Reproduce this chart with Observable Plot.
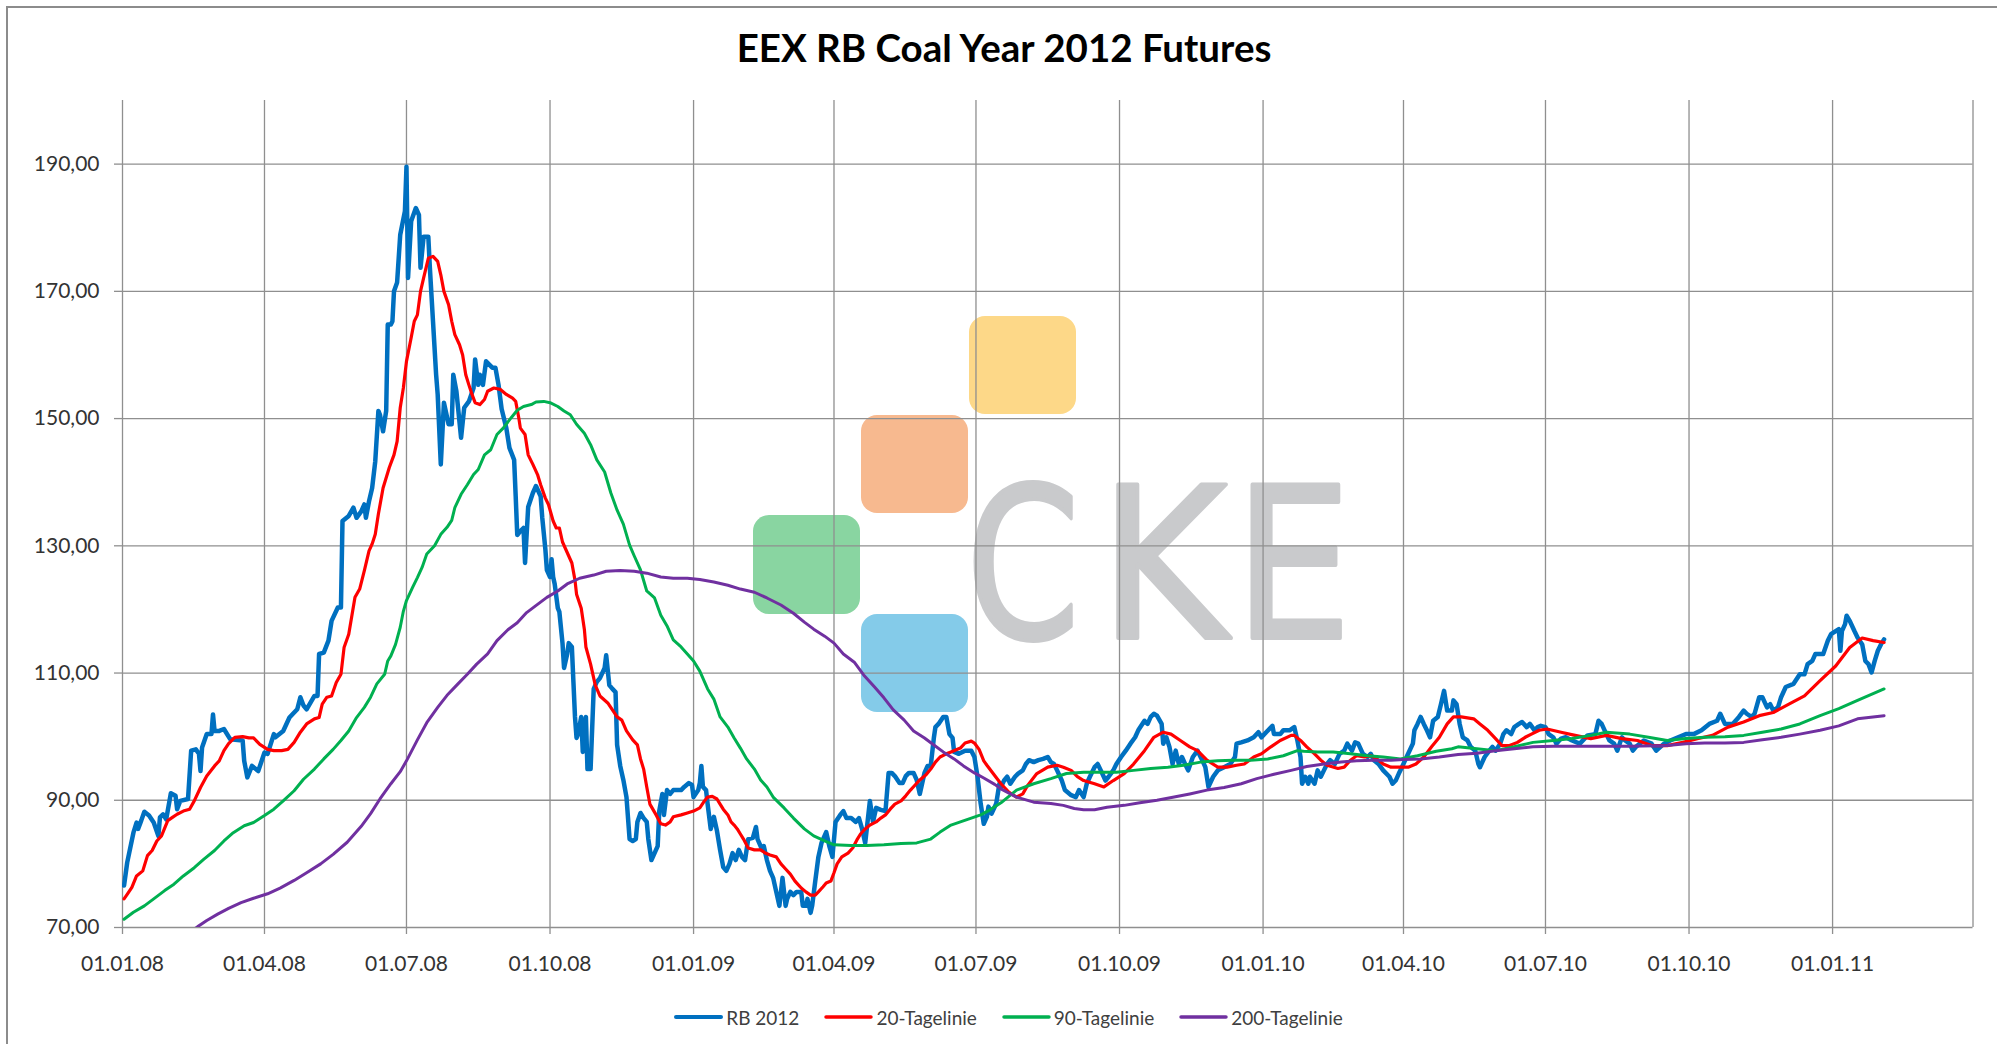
<!DOCTYPE html>
<html>
<head>
<meta charset="utf-8">
<script src="https://cdn.jsdelivr.net/npm/d3@7"></script>
<script src="https://cdn.jsdelivr.net/npm/@observablehq/plot@0.6"></script>
<style>
  html, body { margin: 0; padding: 0; background: #fff; overflow: hidden; }
  #wrap { position: relative; width: 1997px; height: 1044px; overflow: hidden; font-family: Lato, "Open Sans", sans-serif; }
  #frame { position: absolute; left: 6px; top: 6px; width: 2100px; height: 1100px; border-left: 2px solid #8c8c8c; border-top: 2px solid #8c8c8c; box-sizing: border-box; }
  #logo { position: absolute; left: 0; top: 0; }
  #title { position: absolute; left: 0; top: 0; }
  #chart { position: absolute; left: 0; top: 80px; width: 1997px; }
  #legend { position: absolute; left: 0; top: 1004px; width: 2017px; height: 26px; display: flex; justify-content: center; align-items: center; font: 19px Lato, sans-serif; color: #404040; }
  #legend .item { display: flex; align-items: center; margin-right: 25px; }
  #legend .item:last-child { margin-right: 0; }
  #legend svg { display: block; margin-right: 3px; }
</style>
</head>
<body>
<div id="wrap">
  <div id="frame"></div>
  <svg id="logo" width="1997" height="1044"></svg>
  <div id="chart"></div>
  <svg id="title" width="1997" height="80"></svg>
  <div id="legend"></div>
</div>
<script>
// ---------- text ----------
const titleText = "EEX RB Coal Year 2012 Futures";
const seriesNames = ["RB 2012", "20-Tagelinie", "90-Tagelinie", "200-Tagelinie"];
const seriesColors = ["#0070C0", "#FF0000", "#00B050", "#7030A0"];
const seriesWidths = [4.5, 3.2, 3, 3];

// ---------- axes ----------
const yTicks = [70, 90, 110, 130, 150, 170, 190];
const yDomain = [70, 200];
const xTickLabels = ["01.01.08", "01.04.08", "01.07.08", "01.10.08", "01.01.09", "01.04.09", "01.07.09", "01.10.09", "01.01.10", "01.04.10", "01.07.10", "01.10.10", "01.01.11"];
const xGridExtra = ["01.04.11"];
const xDomain = ["01.01.08", "01.04.11"];

// ---------- series (date, value) ----------
const rb2012 = [
["2008-01-02",76.6],["2008-01-04",80.2],["2008-01-08",84.9],["2008-01-10",86.5],["2008-01-11",85.5],["2008-01-13",86.8],["2008-01-15",88.2],["2008-01-18",87.6],["2008-01-21",86.5],["2008-01-24",84.4],["2008-01-25",87.3],["2008-01-27",87.8],["2008-01-29",87.0],
["2008-02-01",91.1],["2008-02-04",90.7],["2008-02-05",88.6],["2008-02-07",89.9],["2008-02-12",90.2],["2008-02-14",97.8],["2008-02-17",98.0],["2008-02-19",97.3],["2008-02-20",94.6],["2008-02-21",98.3],["2008-02-24",100.4],["2008-02-27",100.4],["2008-02-28",103.5],["2008-02-29",100.9],
["2008-03-03",100.9],["2008-03-06",101.2],["2008-03-10",99.6],["2008-03-18",99.4],["2008-03-19",96.2],["2008-03-21",93.6],["2008-03-24",95.4],["2008-03-28",94.6],
["2008-04-01",97.5],["2008-04-03",97.3],["2008-04-07",100.4],["2008-04-08",99.9],["2008-04-13",100.9],["2008-04-17",103.0],["2008-04-22",104.3],["2008-04-24",106.2],["2008-04-26",104.9],["2008-04-28",104.3],
["2008-05-03",106.4],["2008-05-05",106.4],["2008-05-06",113.0],["2008-05-09",113.2],["2008-05-12",115.1],["2008-05-14",118.2],["2008-05-18",120.3],["2008-05-20",120.3],["2008-05-21",133.9],["2008-05-25",134.7],["2008-05-28",136.0],["2008-05-30",134.4],
["2008-06-02",135.4],["2008-06-04",136.5],["2008-06-05",134.4],["2008-06-07",137.0],["2008-06-09",139.1],["2008-06-11",143.3],["2008-06-13",151.2],["2008-06-14",150.6],["2008-06-16",148.0],["2008-06-18",151.2],["2008-06-19",164.8],["2008-06-21",164.8],["2008-06-22",165.3],["2008-06-23",170.0],["2008-06-25",171.4],["2008-06-27",178.9],["2008-06-30",182.6],
["2008-07-01",189.6],["2008-07-02",172.1],["2008-07-04",181.0],["2008-07-07",183.1],["2008-07-09",182.0],["2008-07-10",173.7],["2008-07-12",178.6],["2008-07-15",178.6],["2008-07-16",173.7],["2008-07-18",165.3],["2008-07-20",156.9],["2008-07-21",153.8],["2008-07-23",142.8],["2008-07-25",152.5],["2008-07-28",149.1],["2008-07-30",149.1],["2008-07-31",156.9],
["2008-08-02",154.3],["2008-08-05",147.0],["2008-08-07",151.7],["2008-08-10",152.7],["2008-08-13",154.8],["2008-08-14",159.3],["2008-08-16",155.3],["2008-08-17",156.9],["2008-08-19",155.3],["2008-08-21",159.0],["2008-08-25",158.0],["2008-08-27",158.0],["2008-08-29",155.3],["2008-08-31",151.5],
["2008-09-03",148.5],["2008-09-05",145.4],["2008-09-08",143.5],["2008-09-09",137.8],["2008-09-10",131.7],["2008-09-12",132.3],["2008-09-14",132.8],["2008-09-15",127.3],["2008-09-17",136.1],["2008-09-20",138.3],["2008-09-22",139.4],["2008-09-25",137.8],["2008-09-26",134.5],["2008-09-28",129.5],["2008-09-29",126.2],
["2008-10-01",125.1],["2008-10-02",127.9],["2008-10-03",125.1],["2008-10-04",124.0],["2008-10-06",120.2],["2008-10-07",119.6],["2008-10-09",114.7],["2008-10-10",110.8],["2008-10-12",113.0],["2008-10-13",114.7],["2008-10-15",114.1],["2008-10-16",108.6],["2008-10-17",103.1],["2008-10-18",99.8],["2008-10-19",100.4],["2008-10-21",103.1],["2008-10-22",97.6],["2008-10-24",103.1],["2008-10-25",94.9],["2008-10-27",94.9],["2008-10-29",107.5],["2008-10-31",108.6],
["2008-11-02",109.2],["2008-11-05",110.8],["2008-11-06",112.8],["2008-11-08",108.1],["2008-11-10",107.5],["2008-11-12",107.0],["2008-11-13",98.7],["2008-11-15",95.4],["2008-11-17",93.2],["2008-11-19",90.5],["2008-11-21",83.9],["2008-11-23",83.6],["2008-11-25",83.9],["2008-11-26",86.6],["2008-11-28",88.0],["2008-11-30",87.2],
["2008-12-02",86.6],["2008-12-03",83.9],["2008-12-05",80.6],["2008-12-07",81.7],["2008-12-09",82.8],["2008-12-10",88.3],["2008-12-12",91.0],["2008-12-13",87.7],["2008-12-15",91.6],["2008-12-17",91.0],["2008-12-19",91.6],["2008-12-24",91.6],["2008-12-26",92.1],["2008-12-29",92.7],["2008-12-31",92.4],
["2009-01-01",90.5],["2009-01-04",91.6],["2009-01-05",92.7],["2009-01-06",95.4],["2009-01-07",92.1],["2009-01-09",91.6],["2009-01-10",89.4],["2009-01-12",85.5],["2009-01-14",87.4],["2009-01-16",85.2],["2009-01-18",82.2],["2009-01-20",79.5],["2009-01-22",78.9],["2009-01-24",80.0],["2009-01-26",81.7],["2009-01-28",80.6],["2009-01-30",82.2],
["2009-02-01",81.1],["2009-02-03",80.6],["2009-02-05",83.9],["2009-02-08",84.1],["2009-02-10",85.8],["2009-02-11",83.9],["2009-02-14",82.2],["2009-02-15",82.8],["2009-02-17",80.6],["2009-02-19",78.9],["2009-02-21",77.8],["2009-02-23",75.6],["2009-02-25",73.4],["2009-02-26",75.6],["2009-02-27",77.8],
["2009-03-01",73.4],["2009-03-02",74.5],["2009-03-04",75.6],["2009-03-06",75.1],["2009-03-08",75.6],["2009-03-11",75.6],["2009-03-12",73.4],["2009-03-14",73.4],["2009-03-15",74.5],["2009-03-17",72.3],["2009-03-18",73.4],["2009-03-20",77.3],["2009-03-22",81.1],["2009-03-24",83.3],["2009-03-27",85.0],["2009-03-29",82.8],["2009-03-31",81.1],
["2009-04-02",86.6],["2009-04-05",87.7],["2009-04-07",88.3],["2009-04-09",87.2],["2009-04-12",87.2],["2009-04-15",86.6],["2009-04-17",87.2],["2009-04-19",85.5],["2009-04-21",83.3],["2009-04-22",85.5],["2009-04-24",89.9],["2009-04-26",86.6],["2009-04-28",88.8],
["2009-05-01",88.5],["2009-05-04",88.3],["2009-05-06",94.3],["2009-05-08",94.3],["2009-05-10",93.8],["2009-05-13",92.7],["2009-05-15",92.7],["2009-05-17",93.8],["2009-05-19",94.3],["2009-05-22",94.3],["2009-05-24",93.2],["2009-05-26",91.0],["2009-05-29",94.3],["2009-05-31",95.4],
["2009-06-02",95.4],["2009-06-04",99.8],["2009-06-05",101.5],["2009-06-07",102.0],["2009-06-10",103.1],["2009-06-12",103.1],["2009-06-14",100.4],["2009-06-16",99.8],["2009-06-17",97.6],["2009-06-20",97.3],["2009-06-24",97.8],["2009-06-28",97.8],["2009-06-30",96.8],
["2009-07-02",93.7],["2009-07-04",89.5],["2009-07-06",86.3],["2009-07-08",87.4],["2009-07-09",89.0],["2009-07-11",87.9],["2009-07-14",89.5],["2009-07-16",92.6],["2009-07-17",92.1],["2009-07-19",93.1],["2009-07-21",93.7],["2009-07-23",92.6],["2009-07-26",93.7],["2009-07-28",94.2],["2009-07-31",94.7],
["2009-08-02",95.7],["2009-08-04",96.3],["2009-08-07",96.0],["2009-08-10",96.3],["2009-08-13",96.5],["2009-08-16",96.8],["2009-08-18",96.0],["2009-08-20",95.7],["2009-08-22",94.7],["2009-08-25",93.1],["2009-08-27",91.6],["2009-08-31",90.8],
["2009-09-03",90.5],["2009-09-05",91.6],["2009-09-08",90.5],["2009-09-10",92.6],["2009-09-12",93.7],["2009-09-15",95.2],["2009-09-17",95.7],["2009-09-19",94.7],["2009-09-22",93.1],["2009-09-24",93.7],["2009-09-27",94.7],["2009-09-29",95.7],
["2009-10-02",96.8],["2009-10-05",97.8],["2009-10-08",98.9],["2009-10-11",99.9],["2009-10-13",101.0],["2009-10-17",102.5],["2009-10-19",102.0],["2009-10-21",103.1],["2009-10-23",103.6],["2009-10-25",103.3],["2009-10-28",102.0],["2009-10-29",98.9],["2009-10-31",99.9],
["2009-11-02",98.4],["2009-11-04",95.7],["2009-11-06",97.8],["2009-11-08",95.7],["2009-11-10",96.8],["2009-11-12",95.7],["2009-11-14",94.7],["2009-11-17",96.8],["2009-11-20",97.8],["2009-11-23",96.3],["2009-11-25",95.2],["2009-11-27",92.1],["2009-11-30",93.7],
["2009-12-03",94.7],["2009-12-07",95.2],["2009-12-11",95.7],["2009-12-14",96.8],["2009-12-15",98.9],["2009-12-18",99.1],["2009-12-22",99.4],["2009-12-26",99.9],["2009-12-29",100.7],["2009-12-31",99.9],
["2010-01-03",100.7],["2010-01-07",101.7],["2010-01-08",100.4],["2010-01-12",100.4],["2010-01-14",101.0],["2010-01-18",101.0],["2010-01-21",101.5],["2010-01-23",99.4],["2010-01-25",96.8],["2010-01-26",92.6],["2010-01-28",93.7],["2010-01-30",92.6],["2010-01-31",93.7],
["2010-02-03",92.6],["2010-02-05",94.7],["2010-02-07",93.7],["2010-02-09",94.7],["2010-02-11",95.7],["2010-02-13",96.3],["2010-02-16",95.7],["2010-02-19",97.3],["2010-02-22",97.8],["2010-02-24",98.9],["2010-02-27",97.8],
["2010-03-01",99.1],["2010-03-03",98.9],["2010-03-06",97.3],["2010-03-09",96.8],["2010-03-11",97.3],["2010-03-13",96.3],["2010-03-16",95.7],["2010-03-19",94.7],["2010-03-23",93.7],["2010-03-25",92.6],["2010-03-27",93.1],["2010-03-29",94.2],["2010-03-31",95.2],
["2010-04-03",96.8],["2010-04-07",98.9],["2010-04-08",101.0],["2010-04-10",102.0],["2010-04-12",103.1],["2010-04-14",102.0],["2010-04-16",101.0],["2010-04-18",99.9],["2010-04-20",102.5],["2010-04-23",103.1],["2010-04-25",105.1],["2010-04-27",107.2],["2010-04-29",104.1],
["2010-05-02",104.1],["2010-05-03",105.7],["2010-05-05",105.1],["2010-05-07",102.0],["2010-05-09",99.9],["2010-05-12",99.4],["2010-05-14",98.4],["2010-05-17",97.8],["2010-05-19",95.7],["2010-05-20",95.2],["2010-05-23",96.8],["2010-05-26",97.8],["2010-05-28",98.4],["2010-05-30",97.8],
["2010-06-02",98.9],["2010-06-04",100.4],["2010-06-06",101.0],["2010-06-09",100.4],["2010-06-11",101.5],["2010-06-14",102.0],["2010-06-16",102.3],["2010-06-19",101.5],["2010-06-21",102.0],["2010-06-24",101.0],["2010-06-26",101.5],["2010-06-28",101.7],
["2010-07-01",101.5],["2010-07-03",100.4],["2010-07-06",99.9],["2010-07-08",98.9],["2010-07-11",99.7],["2010-07-14",99.9],["2010-07-18",99.4],["2010-07-23",98.9],["2010-07-28",100.2],
["2010-08-02",100.4],["2010-08-04",102.5],["2010-08-06",102.0],["2010-08-09",100.4],["2010-08-11",99.4],["2010-08-14",98.9],["2010-08-16",97.8],["2010-08-19",99.9],["2010-08-21",99.4],["2010-08-24",98.9],["2010-08-26",97.8],["2010-08-28",98.4],
["2010-09-02",99.4],["2010-09-07",98.9],["2010-09-10",97.8],["2010-09-15",98.9],["2010-09-19",99.4],["2010-09-24",99.9],["2010-09-29",100.4],
["2010-10-04",100.4],["2010-10-09",101.0],["2010-10-14",102.0],["2010-10-19",102.5],["2010-10-21",103.6],["2010-10-24",102.0],["2010-10-29",102.0],
["2010-11-02",103.1],["2010-11-05",104.1],["2010-11-07",103.6],["2010-11-10",103.1],["2010-11-12",103.6],["2010-11-15",106.2],["2010-11-17",106.2],["2010-11-20",104.6],["2010-11-22",105.1],["2010-11-24",104.1],["2010-11-27",104.6],["2010-11-29",106.2],
["2010-12-02",107.8],["2010-12-07",108.3],["2010-12-11",109.8],["2010-12-14",109.8],["2010-12-16",111.4],["2010-12-19",111.9],["2010-12-21",113.0],["2010-12-26",113.0],["2010-12-29",115.1],["2010-12-31",116.1],
["2011-01-05",116.9],["2011-01-06",113.5],["2011-01-07",116.6],["2011-01-09",117.7],["2011-01-10",119.0],["2011-01-12",118.2],["2011-01-15",116.6],["2011-01-17",115.6],["2011-01-20",114.5],["2011-01-22",111.9],["2011-01-24",111.4],["2011-01-26",110.1],["2011-01-28",111.9],["2011-01-30",113.5],["2011-02-01",114.5],["2011-02-03",115.3]
];

const ma20 = [
["2008-01-02",74.5],["2008-01-04",75.2],["2008-01-07",76.3],["2008-01-10",78.1],["2008-01-14",78.9],["2008-01-17",81.3],["2008-01-20",82.1],["2008-01-23",83.6],["2008-01-26",84.4],["2008-01-30",86.8],
["2008-02-02",87.3],["2008-02-05",87.8],["2008-02-09",88.3],["2008-02-13",88.6],["2008-02-16",89.9],["2008-02-20",92.0],["2008-02-24",93.8],["2008-02-29",95.4],
["2008-03-03",96.2],["2008-03-06",97.8],["2008-03-09",98.9],["2008-03-13",99.9],["2008-03-18",100.0],["2008-03-22",99.8],["2008-03-25",99.8],["2008-03-29",98.8],
["2008-04-03",98.0],["2008-04-07",97.8],["2008-04-12",97.8],["2008-04-16",98.0],["2008-04-20",99.1],["2008-04-24",100.7],["2008-04-28",102.0],
["2008-05-03",102.8],["2008-05-06",103.0],["2008-05-08",105.1],["2008-05-11",106.2],["2008-05-14",106.4],["2008-05-17",108.5],["2008-05-20",109.8],["2008-05-22",114.0],["2008-05-25",116.1],["2008-05-29",121.9],
["2008-06-01",123.2],["2008-06-04",126.1],["2008-06-07",129.2],["2008-06-09",130.3],["2008-06-11",131.8],["2008-06-13",135.0],["2008-06-16",139.1],["2008-06-20",142.3],["2008-06-23",144.3],["2008-06-25",146.4],["2008-06-27",151.7],["2008-06-29",154.8],
["2008-07-01",159.0],["2008-07-04",162.7],["2008-07-06",165.3],["2008-07-08",166.3],["2008-07-10",170.0],["2008-07-12",172.1],["2008-07-15",175.2],["2008-07-18",175.5],["2008-07-21",174.7],["2008-07-23",172.6],["2008-07-25",170.0],["2008-07-28",167.9],["2008-07-30",165.3],
["2008-08-01",163.2],["2008-08-04",161.6],["2008-08-06",160.0],["2008-08-08",156.9],["2008-08-10",155.3],["2008-08-12",153.8],["2008-08-14",152.5],["2008-08-17",152.2],["2008-08-20",153.0],["2008-08-22",154.3],["2008-08-26",154.8],["2008-08-30",154.6],
["2008-09-03",153.8],["2008-09-07",153.2],["2008-09-09",152.7],["2008-09-11",150.1],["2008-09-12",148.5],["2008-09-15",147.5],["2008-09-17",144.3],["2008-09-20",142.8],["2008-09-23",141.2],["2008-09-25",139.6],["2008-09-28",137.5],["2008-09-30",136.5],
["2008-10-03",133.9],["2008-10-05",132.8],["2008-10-07",132.8],["2008-10-09",130.6],["2008-10-11",129.5],["2008-10-13",128.4],["2008-10-15",127.3],["2008-10-17",124.6],["2008-10-18",122.4],["2008-10-21",120.2],["2008-10-23",116.9],["2008-10-24",114.1],["2008-10-27",111.4],["2008-10-30",108.1],
["2008-11-02",106.4],["2008-11-07",105.3],["2008-11-10",104.2],["2008-11-13",103.1],["2008-11-16",102.6],["2008-11-19",100.9],["2008-11-23",99.5],["2008-11-26",98.7],["2008-11-28",96.5],["2008-11-30",94.9],
["2008-12-02",92.1],["2008-12-04",89.4],["2008-12-08",87.7],["2008-12-11",86.3],["2008-12-14",86.1],["2008-12-17",86.6],["2008-12-19",87.4],["2008-12-24",87.7],["2008-12-28",88.0],
["2009-01-01",88.3],["2009-01-05",88.8],["2009-01-08",89.9],["2009-01-10",90.5],["2009-01-13",90.6],["2009-01-16",90.2],["2009-01-18",89.4],["2009-01-20",88.6],["2009-01-23",87.7],["2009-01-25",86.6],["2009-01-27",86.1],["2009-01-29",85.5],["2009-01-31",84.7],
["2009-02-02",83.9],["2009-02-05",82.5],["2009-02-09",82.2],["2009-02-13",82.2],["2009-02-16",81.7],["2009-02-19",81.4],["2009-02-23",81.1],["2009-02-26",80.0],
["2009-03-01",79.2],["2009-03-04",78.4],["2009-03-07",77.3],["2009-03-11",76.2],["2009-03-14",75.6],["2009-03-17",75.1],["2009-03-20",75.1],["2009-03-22",75.6],["2009-03-25",76.4],["2009-03-27",77.0],["2009-03-30",77.3],
["2009-04-01",78.6],["2009-04-03",80.0],["2009-04-06",81.1],["2009-04-10",81.7],["2009-04-13",82.5],["2009-04-16",83.9],["2009-04-18",84.7],["2009-04-21",85.5],["2009-04-24",86.1],["2009-04-28",86.6],
["2009-05-01",87.2],["2009-05-04",87.7],["2009-05-07",88.6],["2009-05-10",89.4],["2009-05-14",89.9],["2009-05-17",90.7],["2009-05-20",91.6],["2009-05-23",92.4],["2009-05-26",93.2],["2009-05-30",94.0],
["2009-06-02",94.9],["2009-06-05",96.0],["2009-06-08",96.8],["2009-06-12",97.3],["2009-06-15",97.6],["2009-06-18",97.9],["2009-06-21",98.2],["2009-06-24",99.0],["2009-06-28",99.3],["2009-06-30",99.0],
["2009-07-03",98.0],["2009-07-06",96.2],["2009-07-08",95.5],["2009-07-12",94.2],["2009-07-17",92.6],["2009-07-22",91.3],["2009-07-27",90.5],["2009-07-31",91.0],
["2009-08-03",92.3],["2009-08-09",94.2],["2009-08-16",95.2],["2009-08-22",95.5],["2009-08-26",95.2],["2009-08-31",94.7],
["2009-09-04",93.7],["2009-09-08",93.1],["2009-09-15",92.6],["2009-09-21",92.1],["2009-09-27",93.1],
["2009-10-04",94.2],["2009-10-10",95.7],["2009-10-17",97.8],["2009-10-23",99.9],["2009-10-29",100.7],
["2009-11-03",100.4],["2009-11-09",99.4],["2009-11-15",98.4],["2009-11-20",97.8],["2009-11-26",96.3],
["2009-12-03",95.2],["2009-12-09",95.2],["2009-12-15",95.5],["2009-12-20",95.7],["2009-12-26",96.8],["2009-12-31",97.3],
["2010-01-06",98.4],["2010-01-12",99.4],["2010-01-19",100.2],["2010-01-21",100.2],["2010-01-25",99.4],["2010-01-29",98.4],
["2010-02-03",97.3],["2010-02-07",96.3],["2010-02-11",95.5],["2010-02-18",95.0],["2010-02-22",95.2],["2010-02-26",96.3],
["2010-03-02",97.0],["2010-03-07",96.8],["2010-03-11",97.0],["2010-03-15",96.5],["2010-03-19",95.7],["2010-03-24",95.2],["2010-03-28",95.2],
["2010-04-04",95.2],["2010-04-09",95.7],["2010-04-14",96.8],["2010-04-19",98.4],["2010-04-24",99.9],["2010-04-29",102.0],
["2010-05-03",103.1],["2010-05-08",103.1],["2010-05-16",102.8],["2010-05-20",102.0],["2010-05-25",101.0],["2010-05-30",99.7],
["2010-06-03",98.6],["2010-06-08",98.6],["2010-06-13",99.1],["2010-06-18",99.9],["2010-06-22",100.4],["2010-06-27",101.0],
["2010-07-02",101.2],["2010-07-11",100.7],["2010-07-20",100.2],["2010-07-30",99.7],["2010-08-09",100.2],["2010-08-19",99.7],["2010-08-29",99.4],
["2010-09-07",98.6],["2010-09-17",98.6],["2010-09-27",99.1],["2010-10-07",99.7],["2010-10-16",100.2],["2010-10-26",101.5],
["2010-11-05",102.3],["2010-11-15",103.3],["2010-11-24",103.8],["2010-12-04",105.1],["2010-12-14",106.4],["2010-12-24",108.8],
["2011-01-03",111.1],["2011-01-12",114.0],["2011-01-20",115.5],["2011-01-27",115.1],["2011-02-03",114.8]
];

const ma90 = [
["2008-01-02",71.3],["2008-01-08",72.4],["2008-01-15",73.4],["2008-01-21",74.5],["2008-01-28",75.8],["2008-02-03",76.8],["2008-02-09",78.1],["2008-02-16",79.4],["2008-02-22",80.7],["2008-02-29",82.1],
["2008-03-06",83.6],["2008-03-12",84.9],["2008-03-19",86.0],["2008-03-25",86.5],["2008-04-01",87.6],["2008-04-07",88.6],["2008-04-13",89.9],["2008-04-20",91.5],["2008-04-26",93.3],
["2008-05-03",94.9],["2008-05-09",96.5],["2008-05-15",98.0],["2008-05-20",99.4],["2008-05-25",100.9],["2008-05-30",103.0],["2008-06-04",104.6],["2008-06-08",106.2],["2008-06-12",108.3],["2008-06-17",109.8],["2008-06-19",111.9],["2008-06-21",112.7],["2008-06-24",114.5],["2008-06-27",117.2],["2008-06-29",119.7],
["2008-07-01",121.4],["2008-07-05",123.5],["2008-07-08",125.0],["2008-07-11",126.6],["2008-07-14",128.7],["2008-07-19",130.0],["2008-07-23",131.8],["2008-07-27",132.9],["2008-07-30",134.0],
["2008-08-01",136.0],["2008-08-05",138.1],["2008-08-09",139.6],["2008-08-13",141.2],["2008-08-16",142.0],["2008-08-20",144.3],["2008-08-24",145.1],["2008-08-28",147.5],
["2008-09-01",148.5],["2008-09-06",150.1],["2008-09-10",151.3],["2008-09-14",151.9],["2008-09-19",152.2],["2008-09-22",152.6],["2008-09-27",152.7],
["2008-10-01",152.5],["2008-10-06",151.9],["2008-10-10",151.2],["2008-10-14",150.6],["2008-10-18",149.1],["2008-10-23",147.7],["2008-10-27",145.9],["2008-10-31",143.5],
["2008-11-05",141.6],["2008-11-09",138.3],["2008-11-13",135.6],["2008-11-17",133.4],["2008-11-21",130.1],["2008-11-24",128.4],["2008-11-28",126.2],
["2008-12-02",122.9],["2008-12-07",121.8],["2008-12-11",119.1],["2008-12-15",117.4],["2008-12-19",115.2],["2008-12-24",114.1],["2008-12-28",113.0],
["2009-01-01",111.9],["2009-01-05",110.3],["2009-01-10",107.5],["2009-01-14",105.9],["2009-01-18",103.1],["2009-01-23",101.5],["2009-01-27",99.8],["2009-01-31",98.2],
["2009-02-04",96.5],["2009-02-09",94.9],["2009-02-13",93.2],["2009-02-17",92.1],["2009-02-21",90.5],["2009-02-28",88.8],
["2009-03-06",87.2],["2009-03-13",85.5],["2009-03-19",84.4],["2009-03-26",83.6],["2009-04-01",83.0],["2009-04-12",82.9],["2009-04-22",82.9],["2009-05-03",83.0],["2009-05-14",83.2],["2009-05-24",83.3],
["2009-06-02",83.9],["2009-06-08",85.0],["2009-06-15",86.1],["2009-06-21",86.6],["2009-06-28",87.2],["2009-07-04",87.7],["2009-07-10",88.5],["2009-07-17",89.6],["2009-07-27",91.6],
["2009-08-07",92.6],["2009-08-18",93.4],["2009-08-28",94.2],["2009-09-08",94.4],["2009-09-19",94.4],["2009-09-29",94.4],["2009-10-10",94.7],["2009-10-21",95.0],
["2009-11-01",95.2],["2009-11-11",95.5],["2009-11-22",96.0],["2009-12-03",96.2],["2009-12-13",96.3],["2009-12-24",96.3],
["2010-01-04",96.5],["2010-01-14",97.0],["2010-01-23",97.8],["2010-01-27",97.7],["2010-02-05",97.6],["2010-02-15",97.6],["2010-02-26",97.3],["2010-03-09",97.0],["2010-03-19",96.8],["2010-03-30",96.5],
["2010-04-10",97.0],["2010-04-22",97.7],["2010-05-02",98.1],["2010-05-06",98.4],["2010-05-18",98.1],["2010-05-30",97.8],["2010-06-11",98.4],["2010-06-23",99.1],
["2010-07-06",99.4],["2010-07-18",99.7],["2010-07-30",100.2],["2010-08-09",100.7],["2010-08-24",100.4],["2010-09-05",99.9],["2010-09-17",99.4],["2010-09-29",99.7],
["2010-10-11",99.9],["2010-10-24",100.0],["2010-11-05",100.2],["2010-11-17",100.7],["2010-11-29",101.2],["2010-12-11",102.0],["2010-12-24",103.3],
["2011-01-05",104.4],["2011-01-17",105.7],["2011-02-03",107.5]
];

const ma200 = [
["2008-02-14",69.4],["2008-02-18",70.1],["2008-02-24",71.1],["2008-03-02",72.1],["2008-03-09",73.0],["2008-03-17",73.9],["2008-03-25",74.6],["2008-04-03",75.3],["2008-04-11",76.2],["2008-04-20",77.4],["2008-04-28",78.6],
["2008-05-07",80.0],["2008-05-15",81.5],["2008-05-24",83.4],["2008-06-02",85.9],["2008-06-08",87.9],["2008-06-14",90.2],["2008-06-21",92.6],["2008-06-27",94.5],
["2008-07-01",96.2],["2008-07-08",99.5],["2008-07-14",102.2],["2008-07-21",104.6],["2008-07-27",106.5],["2008-08-03",108.3],["2008-08-09",109.8],["2008-08-15",111.4],["2008-08-22",113.0],["2008-08-28",115.1],
["2008-09-04",116.8],["2008-09-10",117.9],["2008-09-16",119.5],["2008-09-23",120.8],["2008-09-29",121.9],["2008-10-06",122.9],["2008-10-12",124.0],["2008-10-20",124.9],["2008-10-29",125.4],
["2008-11-06",126.0],["2008-11-15",126.1],["2008-11-24",126.0],["2008-12-02",125.7],["2008-12-11",125.1],["2008-12-19",124.9],["2008-12-28",124.9],
["2009-01-05",124.7],["2009-01-14",124.3],["2009-01-23",123.8],["2009-01-31",123.2],["2009-02-09",122.7],["2009-02-17",121.8],["2009-02-26",120.7],
["2009-03-06",119.4],["2009-03-13",118.0],["2009-03-19",116.9],["2009-03-26",115.8],["2009-04-01",114.7],["2009-04-07",113.0],["2009-04-14",111.7],["2009-04-20",109.7],["2009-04-27",107.8],
["2009-05-03",106.1],["2009-05-09",104.2],["2009-05-16",102.6],["2009-05-22",100.9],["2009-05-29",99.8],["2009-06-04",98.7],["2009-06-10",97.6],["2009-06-17",96.5],["2009-06-23",95.4],["2009-06-30",94.3],
["2009-07-06",93.5],["2009-07-13",92.5],["2009-07-17",91.8],["2009-07-27",90.5],["2009-08-07",89.7],["2009-08-18",89.5],["2009-08-26",89.2],["2009-09-02",88.7],["2009-09-08",88.5],["2009-09-15",88.5],["2009-09-23",88.9],
["2009-10-04",89.2],["2009-10-14",89.6],["2009-10-25",90.0],["2009-11-05",90.5],["2009-11-15",91.0],["2009-11-26",91.6],["2009-12-07",92.0],["2009-12-18",92.6],["2009-12-28",93.4],
["2010-01-08",94.1],["2010-01-19",94.7],["2010-01-29",95.3],["2010-02-09",95.7],["2010-02-20",96.0],["2010-03-02",96.2],["2010-03-13",96.3],["2010-03-24",96.3],["2010-04-01",96.4],["2010-04-12",96.5],["2010-04-24",96.8],
["2010-05-06",97.2],["2010-05-18",97.4],["2010-05-30",97.8],["2010-06-11",98.1],["2010-06-23",98.4],["2010-07-06",98.5],["2010-07-30",98.5],["2010-08-24",98.5],["2010-09-17",98.6],["2010-09-29",98.9],
["2010-10-11",99.0],["2010-10-24",99.0],["2010-11-05",99.1],["2010-11-17",99.5],["2010-11-29",99.9],["2010-12-11",100.4],["2010-12-24",101.0],
["2011-01-05",101.7],["2011-01-17",102.8],["2011-02-03",103.3]
];

// ---------- watermark (decoration) ----------
const logoSquares = [
  {x: 969, y: 316, w: 107, h: 98, fill: "#fdd888"},
  {x: 861, y: 415, w: 107, h: 98, fill: "#f7b98f"},
  {x: 753, y: 515, w: 107, h: 99, fill: "#89d5a1"},
  {x: 861, y: 614, w: 107, h: 98, fill: "#84cbe9"}
];
const logoLetters = [
  {ch: "C", x: 966, len: 114},
  {ch: "K", x: 1099, len: 128},
  {ch: "E", x: 1234, len: 118}
];

// ---------- build ----------
const parse = d3.utcParse("%Y-%m-%d");
const parseTick = d3.utcParse("%d.%m.%y");
const toRows = arr => arr.map(([d, v]) => ({date: parse(d), value: v}));
const gridColor = "#8f8f8f";
const fmtY = d => d3.format(".2f")(d).replace(".", ",");

// logo
const logo = d3.select("#logo");
logo.selectAll("rect").data(logoSquares).join("rect")
  .attr("x", d => d.x).attr("y", d => d.y).attr("width", d => d.w).attr("height", d => d.h)
  .attr("rx", 16).attr("fill", d => d.fill);
logo.selectAll("text").data(logoLetters).join("text")
  .attr("x", d => d.x).attr("y", 638)
  .attr("textLength", d => d.len).attr("lengthAdjust", "spacingAndGlyphs")
  .attr("font-family", "'DejaVu Sans', sans-serif").attr("font-size", 210)
  .attr("fill", "#c9cacc").attr("stroke", "#c9cacc").attr("stroke-width", 4).attr("stroke-linejoin", "round")
  .text(d => d.ch);

// title
d3.select("#title").append("text")
  .attr("x", 1004).attr("y", 62).attr("text-anchor", "middle")
  .attr("font-family", "Lato, sans-serif").attr("font-weight", "bold").attr("font-size", 38.5)
  .attr("fill", "#000").text(titleText);

// chart
const series = [rb2012, ma20, ma90, ma200].map(toRows);
const chart = Plot.plot({
  width: 1997,
  height: 900,
  marginLeft: 122,
  marginRight: 24.5,
  marginTop: 20,
  marginBottom: 53,
  style: {background: "transparent", fontFamily: "Lato, sans-serif", color: "#333", overflow: "visible"},
  x: {type: "utc", domain: xDomain.map(parseTick), label: null},
  y: {domain: yDomain, label: null},
  marks: [
    Plot.gridX([...xTickLabels, ...xGridExtra].map(parseTick), {stroke: gridColor, strokeOpacity: 1, strokeWidth: 1.3}),
    Plot.gridY(yTicks, {stroke: gridColor, strokeOpacity: 1, strokeWidth: 1.3}),
    Plot.axisY(yTicks, {tickSize: 8, tickPadding: 15, stroke: gridColor, strokeWidth: 1.3, fill: "#333", fontSize: 21, tickFormat: fmtY, label: null}),
    Plot.axisX(xTickLabels.map(parseTick), {tickSize: 7, tickPadding: 22, stroke: gridColor, strokeWidth: 1.3, fill: "#333", fontSize: 21, tickFormat: d3.utcFormat("%d.%m.%y"), label: null}),
    ...series.map((rows, i) => Plot.line(rows, {x: "date", y: "value", stroke: seriesColors[i], strokeWidth: seriesWidths[i], clip: true}))
  ]
});
document.getElementById("chart").appendChild(chart);

// legend
const legend = d3.select("#legend");
seriesNames.forEach((name, i) => {
  const item = legend.append("div").attr("class", "item");
  const sw = item.append("svg").attr("width", 49).attr("height", 10);
  sw.append("line").attr("x1", 2).attr("x2", 47).attr("y1", 5).attr("y2", 5)
    .attr("stroke", seriesColors[i]).attr("stroke-width", i === 0 ? 4 : 3.5).attr("stroke-linecap", "round");
  item.append("span").text(name);
});
</script>
</body>
</html>
